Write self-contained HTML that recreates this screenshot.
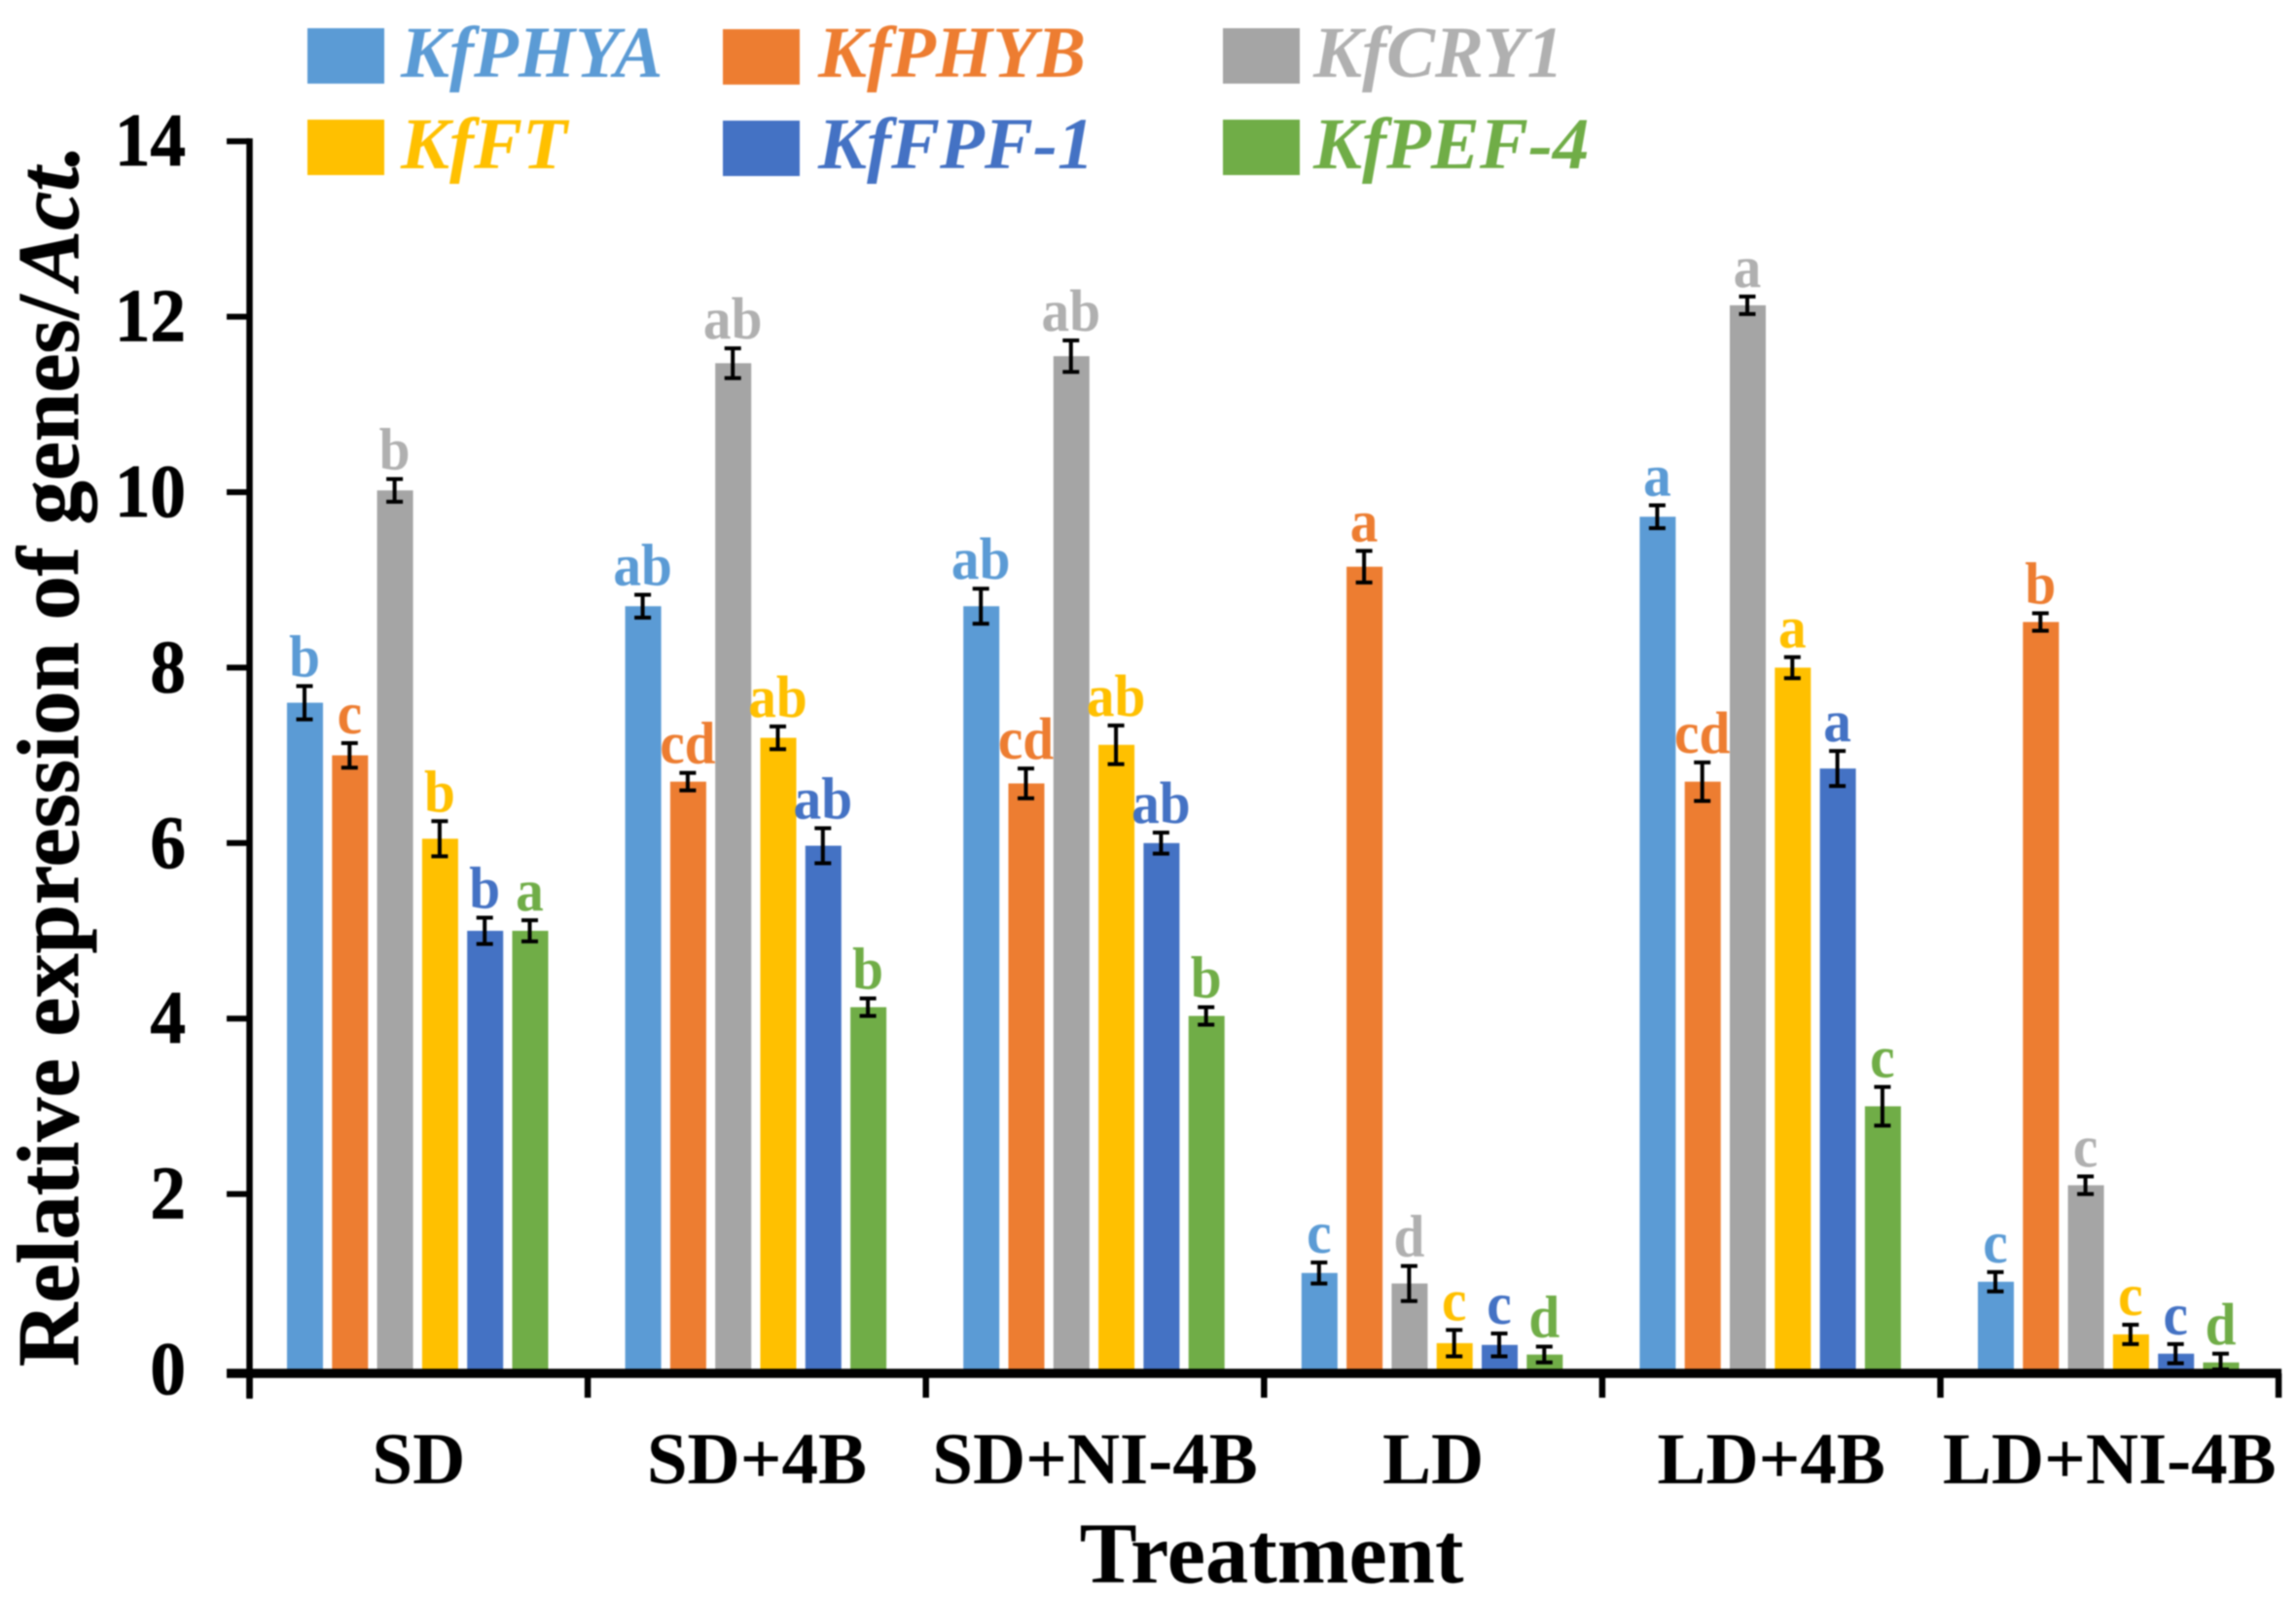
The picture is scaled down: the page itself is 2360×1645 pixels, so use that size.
<!DOCTYPE html>
<html lang="en">
<head>
<meta charset="utf-8">
<title>Relative expression of genes</title>
<style>
html,body{margin:0;padding:0;background:#fff;width:2360px;height:1645px;overflow:hidden}
svg{display:block;filter:blur(0.7px)}
text{font-family:"Liberation Serif",serif;font-weight:bold}
</style>
</head>
<body>
<svg id="chart" xmlns="http://www.w3.org/2000/svg" width="2360" height="1645" viewBox="0 0 2360 1645">
  <rect width="2360" height="1645" fill="#fff"/>
  <g id="bars"></g>
  <g id="errs"></g>
  <g id="letters"></g>
  <g id="axes"></g>
  <text x="1307" y="1627" font-size="88.5" text-anchor="middle">Treatment</text>
  <text transform="translate(80,1405) rotate(-90)" font-size="90.5" stroke="#000" stroke-width="0.8">Relative expression of genes/<tspan font-style="italic" dx="6">Act.</tspan></text>
  <g id="legend"></g>
</svg>
<script>
const categories = ['SD', 'SD+4B', 'SD+NI-4B', 'LD', 'LD+4B', 'LD+NI-4B'];
const seriesNames = ['KfPHYA', 'KfPHYB', 'KfCRY1', 'KfFT', 'KfFPF-1', 'KfPEF-4'];
const seriesColors = ['#5B9BD5', '#ED7D31', '#A5A5A5', '#FFC000', '#4472C4', '#70AD47'];
const letterColors = ['#5B9BD5', '#ED7D31', '#B0B0B0', '#FFC000', '#4472C4', '#70AD47'];
const yTicks = [0, 2, 4, 6, 8, 10, 12, 14];

const kfPHYA = [7.6, 8.7, 8.7, 1.1, 9.72, 1.0];
const kfPHYB = [7.0, 6.7, 6.68, 9.15, 6.7, 8.52];
const kfCRY1 = [10.02, 11.47, 11.55, 0.98, 12.13, 2.1];
const kfFT = [6.05, 7.2, 7.12, 0.3, 8.0, 0.4];
const kfFPF1 = [5.0, 5.97, 6.0, 0.28, 6.85, 0.18];
const kfPEF4 = [5.0, 4.13, 4.03, 0.17, 3.0, 0.08];
const seriesValues = [kfPHYA, kfPHYB, kfCRY1, kfFT, kfFPF1, kfPEF4];

const errPHYA = [0.19, 0.13, 0.2, 0.12, 0.13, 0.11];
const errPHYB = [0.14, 0.1, 0.17, 0.18, 0.22, 0.1];
const errCRY1 = [0.13, 0.17, 0.18, 0.2, 0.1, 0.1];
const errFT = [0.2, 0.13, 0.22, 0.15, 0.12, 0.11];
const errFPF1 = [0.15, 0.2, 0.12, 0.13, 0.2, 0.11];
const errPEF4 = [0.12, 0.1, 0.1, 0.09, 0.22, 0.1];
const seriesErrors = [errPHYA, errPHYB, errCRY1, errFT, errFPF1, errPEF4];

const lettersPHYA = ['b', 'ab', 'ab', 'c', 'a', 'c'];
const lettersPHYB = ['c', 'cd', 'cd', 'a', 'cd', 'b'];
const lettersCRY1 = ['b', 'ab', 'ab', 'd', 'a', 'c'];
const lettersFT = ['b', 'ab', 'ab', 'c', 'a', 'c'];
const lettersFPF1 = ['b', 'ab', 'ab', 'c', 'a', 'c'];
const lettersPEF4 = ['a', 'b', 'b', 'd', 'c', 'd'];
const seriesLetters = [lettersPHYA, lettersPHYB, lettersCRY1, lettersFT, lettersFPF1, lettersPEF4];

const NS = 'http://www.w3.org/2000/svg';
const Y0 = 1408, UNIT = 90.2, X0 = 256.5, GROUP = 347.6, PITCH = 46.3, BARW = 37, BAR_OFFSET = 38.5;

function yScale(v) { return Y0 - v * UNIT; }
function groupX(i) { return X0 + i * GROUP; }
function barX(i, s) { return groupX(i) + BAR_OFFSET + s * PITCH; }

function make(parent, tag, attrs, text) {
  const el = document.createElementNS(NS, tag);
  for (const k in attrs) el.setAttribute(k, attrs[k]);
  if (text !== undefined) el.textContent = text;
  parent.appendChild(el);
  return el;
}

const barsG = document.getElementById('bars');
const errsG = document.getElementById('errs');
const lettersG = document.getElementById('letters');
const axesG = document.getElementById('axes');
const legendG = document.getElementById('legend');

seriesValues.forEach((vals, s) => {
  vals.forEach((v, i) => {
    const x = barX(i, s);
    const bar = make(barsG, 'rect', { x: x, y: yScale(v), width: BARW, height: Y0 - yScale(v), fill: seriesColors[s] });
    
    

    const cx = x + BARW / 2 - 0.5;
    const e = seriesErrors[s][i];
    const top = yScale(v + e);
    const bottom = Math.min(yScale(v - e), Y0);
    const err = make(errsG, 'path', {
      d: 'M' + cx + ' ' + top + 'V' + bottom + 'M' + (cx - 8.5) + ' ' + top + 'H' + (cx + 8.5) + 'M' + (cx - 8.5) + ' ' + bottom + 'H' + (cx + 8.5),
      stroke: '#000', 'stroke-width': 4, fill: 'none'
    });
    
    

    const lab = make(lettersG, 'text', {
      transform: 'translate(' + cx + ',' + (top - 10) + ') scale(0.94,1)',
      'font-size': 61, 'text-anchor': 'middle', fill: letterColors[s]
    }, seriesLetters[s][i]);
    
    
  });
});

const yLine = make(axesG, 'line', { x1: X0, x2: X0, y1: yScale(14) - 3, y2: Y0 + 30, stroke: '#000', 'stroke-width': 6.5 });



const xLine = make(axesG, 'line', { x1: 233, x2: groupX(6) + 3, y1: 1412, y2: 1412, stroke: '#000', 'stroke-width': 9.5 });



yTicks.forEach(t => {
  if (t > 0) {
    const tick = make(axesG, 'line', { x1: 233, x2: X0, y1: yScale(t), y2: yScale(t), stroke: '#000', 'stroke-width': 6 });
    
    
  }
  const lbl = make(axesG, 'text', {
    transform: 'translate(191,' + (yScale(t) + 25) + ') scale(0.95,1)',
    'font-size': 77, 'text-anchor': 'end', fill: '#000', stroke: '#000', 'stroke-width': 0.8
  }, String(t));
  
  
});

for (let i = 0; i <= categories.length; i++) {
  const tick = make(axesG, 'line', { x1: groupX(i), x2: groupX(i), y1: 1412, y2: 1437, stroke: '#000', 'stroke-width': 6.5 });
  
  
}

categories.forEach((c, i) => {
  const lbl = make(axesG, 'text', { x: groupX(i) + GROUP / 2, y: 1525, 'font-size': 75, 'text-anchor': 'middle', fill: '#000' }, c);
  
  
});

const legendCols = [316, 743, 1257];
const legendTextCols = [412, 841, 1350];
const legendRows = [29, 123];
seriesNames.forEach((n, s) => {
  const col = s % 3, row = Math.floor(s / 3);
  const sw = make(legendG, 'rect', { x: legendCols[col], y: legendRows[row] + (col === 1 ? 1 : 0), width: 79, height: 57, fill: seriesColors[s] });
  
  
  const tx = make(legendG, 'text', {
    x: legendTextCols[col], y: legendRows[row] + 50, 'font-size': 75, 'font-style': 'italic', fill: letterColors[s]
  }, n);
  
  
});
</script>
</body>
</html>
